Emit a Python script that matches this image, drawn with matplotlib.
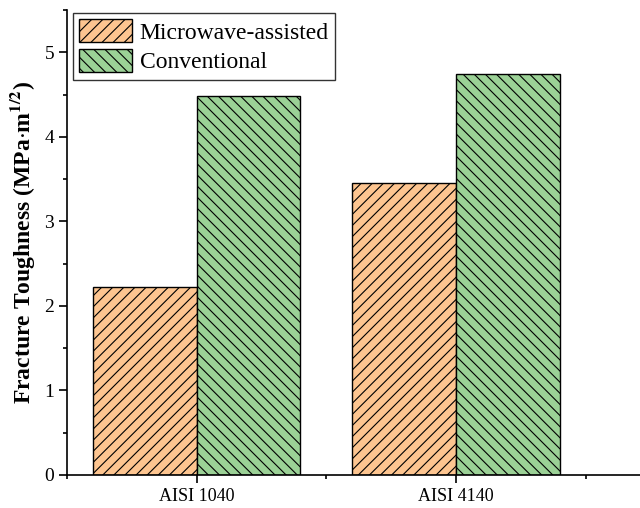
import numpy as np
import matplotlib.pyplot as plt
from matplotlib.ticker import MultipleLocator

plt.rcParams['font.family'] = ['Liberation Serif', 'DejaVu Serif']
plt.rcParams['hatch.linewidth'] = 0.8
plt.rcParams['mathtext.fontset'] = 'stix'

# Data
steels = ['AISI 1040', 'AISI 4140']
microwave = [2.23, 3.46]
conventional = [4.49, 4.75]

x = np.arange(1, len(steels) + 1)
w = 0.4

fig = plt.figure(figsize=(6.4, 5.08), dpi=100)
ax = fig.add_axes([0.105, 0.065, 0.895, 0.915])

ax.bar(x - w / 2, microwave, w, color='#FDC590', edgecolor='black', linewidth=1,
       hatch='///', label='Microwave-assisted')
ax.bar(x + w / 2, conventional, w, color='#9BD196', edgecolor='black', linewidth=1,
       hatch='\\\\\\', label='Conventional')

ax.set_xlim(0.5, 2.71)
ax.set_ylim(0, 5.5)
ax.set_xticks(x)
ax.set_xticklabels(steels)
ax.xaxis.set_minor_locator(MultipleLocator(0.5))
ax.yaxis.set_major_locator(MultipleLocator(1))
ax.yaxis.set_minor_locator(MultipleLocator(0.5))
ax.tick_params(axis='both', which='major', direction='out', length=6, width=1.2, labelsize=14)
ax.tick_params(axis='x', labelsize=13)
ax.tick_params(axis='both', which='minor', direction='out', length=3, width=1.2)

for s in ['top', 'right']:
    ax.spines[s].set_visible(False)
for s in ['left', 'bottom']:
    ax.spines[s].set_linewidth(1.2)

ax.set_ylabel(r'Fracture Toughness (MPa$\cdot$m$^{\mathbf{1/2}}$)', fontsize=17,
              fontweight='bold', labelpad=5)

leg = ax.legend(loc='upper left', fontsize=17, frameon=True, fancybox=False,
                edgecolor='black', handlelength=2.25, handleheight=1.1,
                bbox_to_anchor=(0.01, 0.994), borderaxespad=0.0,
                handletextpad=0.3, labelspacing=0.22, borderpad=0.27)
leg.get_frame().set_linewidth(1)

fig.savefig('out.png', dpi=100)
